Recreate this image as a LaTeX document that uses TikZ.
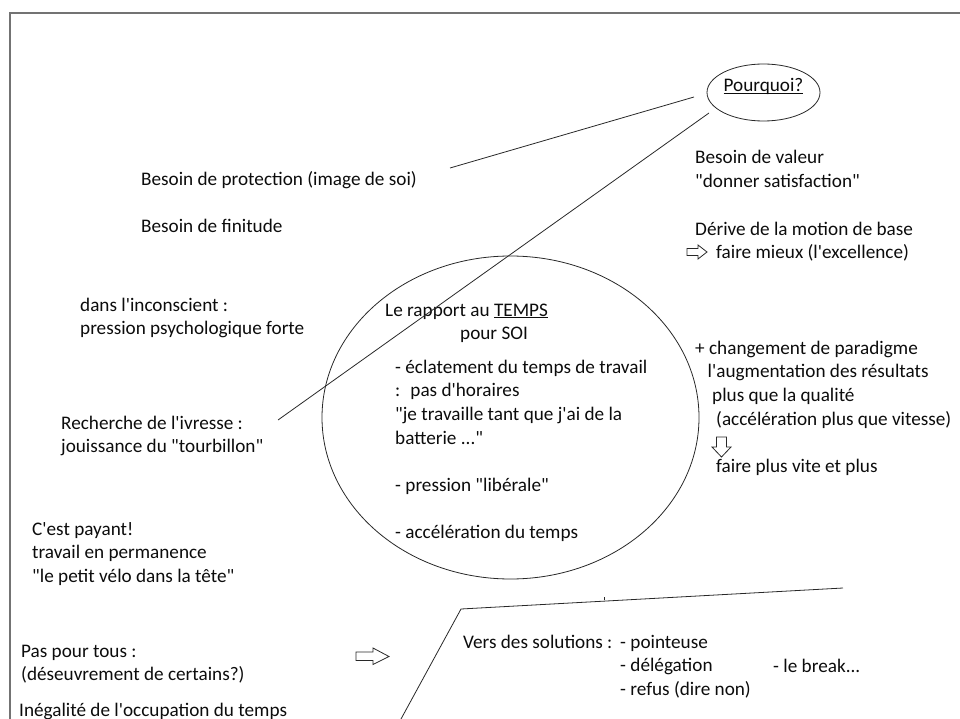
\documentclass[tikz,border=0pt]{standalone}
\usepackage{fontspec}
\setmainfont{Carlito}[Ligatures=TeXOff]
\usetikzlibrary{shapes.geometric}
\newcommand{\undl}[1]{\underline{\smash{#1}}}

\begin{document}
\begin{tikzpicture}[x=1pt, y=-1pt,
        txt/.style={anchor=base west, inner sep=0pt, align=left, text=Tink, font=\fontsize{19.2}{23.7}\selectfont},
        thinline/.style={draw=Tline, line width=0.8pt},
        hollow/.style={draw=Tline, line width=0.8pt, fill=white, line join=miter}]
            \definecolor{Tink}{RGB}{12, 12, 12}
            \definecolor{Tline}{RGB}{40, 40, 40}
            \definecolor{Tframe}{RGB}{115, 115, 115}
            \def\lead{23.5pt}
            \useasboundingbox (0, 0) rectangle (960, 719);
            \clip (0, 0) rectangle (960, 719);
            \draw[draw=Tframe, line width=1.4pt] (10, 13) rectangle (980, 740);
            \node[draw=Tline, line width=0.8pt, shape=ellipse, minimum width=113, minimum height=57, inner sep=0pt, text=Tink, font=\fontsize{19.2}{23.7}\selectfont] (why) at (763.5, 92.5) {\undl{Pourquoi?}};
            \node[draw=Tline, line width=0.8pt, shape=ellipse, minimum width=377, minimum height=323] (temps) at (510.5, 417.5) {};
            \node[txt] (prot) at (141, 186) {Besoin de protection (image de soi)};
            \node[txt] (fin) at (141, 233) {Besoin de finitude};
            \node[txt] (incons) at (80, 334.7) {dans l'inconscient :\\pression psychologique forte};
            \node[txt] (ivresse) at (61, 452.7) {Recherche de l'ivresse :\\jouissance du "tourbillon"};
            \node[txt] (payant) at (32, 582.4) {C'est payant!\\travail en permanence\\"le petit vélo dans la tête"};
            \node[txt] (tous) at (21, 680.7) {Pas pour tous :\\(déseuvrement de certains?)};
            \node[txt] (inegal) at (19, 716) {Inégalité de l'occupation du temps};
            \node[txt] (rapport) at (385, 339.7) {Le rapport au \undl{TEMPS}\\\hspace*{75pt}pour SOI};
            \node[txt] (eclat) at (395, 538.5) {- éclatement du temps de travail\\:~ pas d'horaires\\"je travaille tant que j'ai de la\\batterie ..."\\[\lead]- pression "libérale"\\[\lead]- accélération du temps};
            \node[txt] (valeur) at (695, 187.7) {Besoin de valeur\\"donner satisfaction"};
            \node[txt] (derive) at (695, 258.7) {Dérive de la motion de base\\\hspace*{21pt}faire mieux (l'excellence)};
            \node[txt] (paradigme) at (695, 472.3) {+ changement de paradigme\\\hspace*{12.5pt}l'augmentation des résultats\\\hspace*{17pt}plus que la qualité\\\hspace*{21pt}(accélération plus que vitesse)\\[\lead]\hspace*{21pt}faire plus vite et plus};
            \node[txt] (vers) at (463, 648) {Vers des solutions :};
            \node[txt] (sol) at (620, 695.4) {- pointeuse\\- délégation\\- refus (dire non)};
            \node[txt] (brk) at (773, 672) {- le break...};
            \coordinate (L1a) at (450, 168);
            \coordinate (L1b) at (694, 97);
            \coordinate (L2a) at (709, 113);
            \coordinate (L2b) at (278, 420);
            \coordinate (L3a) at (401, 719);
            \coordinate (L3b) at (461, 609);
            \coordinate (L3c) at (843, 588);
            \draw[thinline] (L1a) -- (L1b);
            \draw[thinline] (L2a) -- (L2b);
            \draw[thinline] (L3a) -- (L3b) -- (L3c);
            \draw[thinline] (604, 597) -- (604, 600);
            \draw[hollow] (687, 248.5) -- (698, 248.5) -- (698, 245) -- (707, 252) -- (698, 259) -- (698, 255.5) -- (687, 255.5) -- cycle;
            \draw[hollow] (716.5, 437) -- (726.5, 437) -- (726.5, 447) -- (731, 447) -- (721.5, 457) -- (712, 447) -- (716.5, 447) -- cycle;
            \draw[hollow] (356, 652) -- (373, 652) -- (373, 648) -- (389, 656.5) -- (373, 664.5) -- (373, 660.5) -- (356, 660.5) -- cycle;
        \end{tikzpicture}
\end{document}
